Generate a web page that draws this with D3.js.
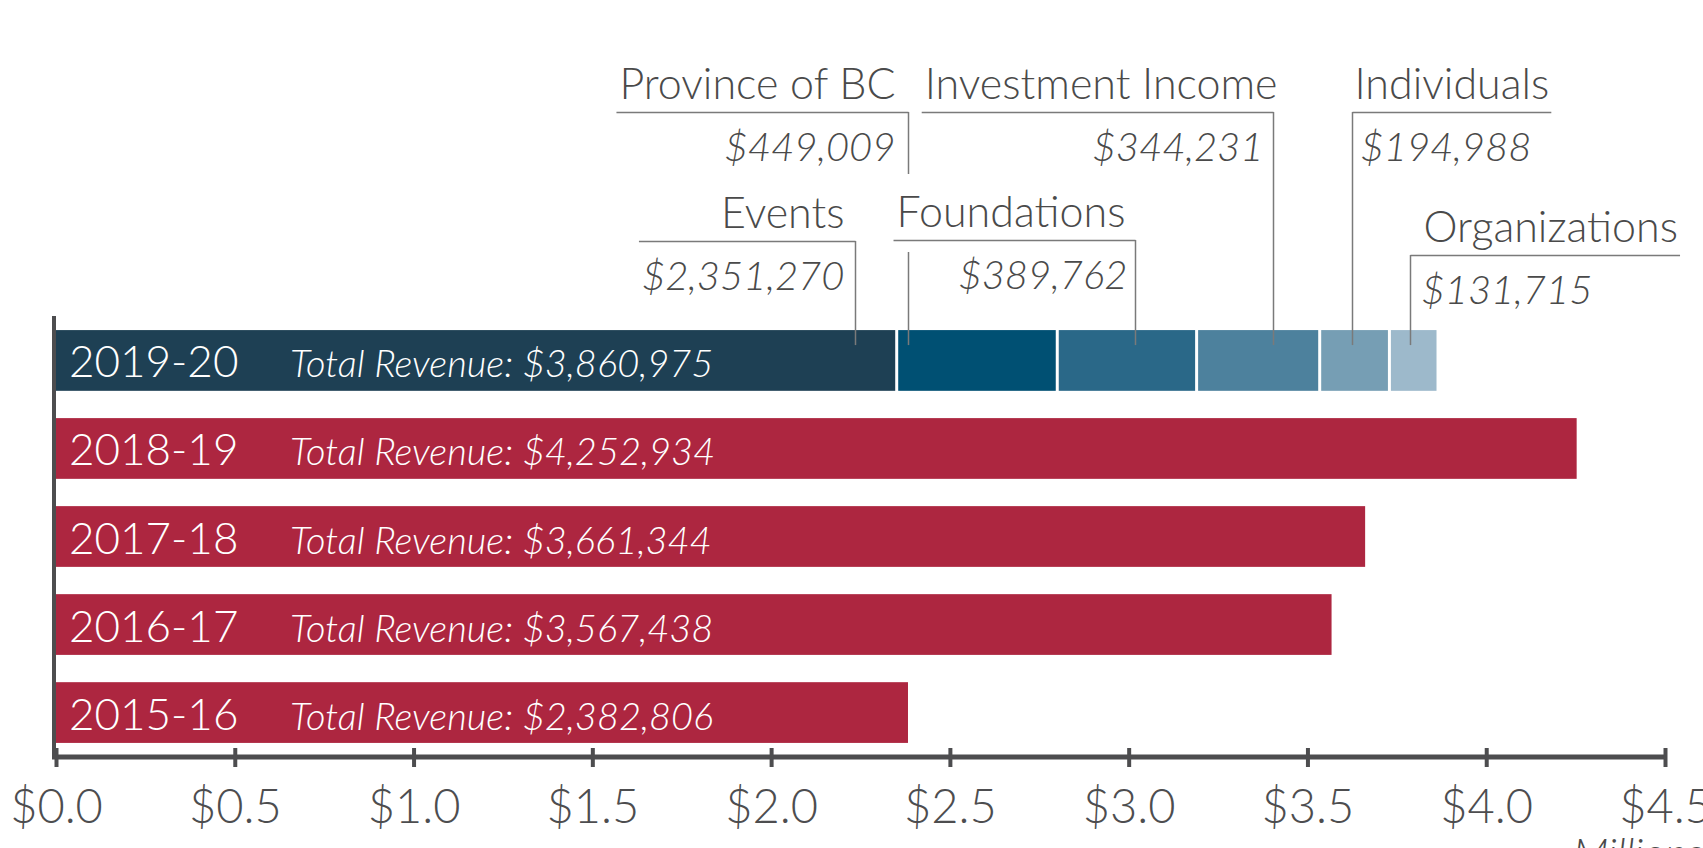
<!DOCTYPE html>
<html>
<head>
<meta charset="utf-8">
<script src="https://cdn.jsdelivr.net/npm/d3@7"></script>
<style>
  html, body { margin: 0; padding: 0; background: #fff; overflow: hidden; }
  svg { display: block; font-family: Lato, "Open Sans", sans-serif; }
</style>
</head>
<body>
<svg id="chart"></svg>
<script>
// revenue by fiscal year (dollars)
const years = ["2019-20", "2018-19", "2017-18", "2016-17", "2015-16"];
const totals = [3860975, 4252934, 3661344, 3567438, 2382806];

// 2019-20 breakdown
const sources = ["Events", "Province of BC", "Foundations", "Investment Income", "Individuals", "Organizations"];
const sourceValues = [2351270, 449009, 389762, 344231, 194988, 131715];

// axis ticks, in millions
const tickValues = [0, 0.5, 1, 1.5, 2, 2.5, 3, 3.5, 4, 4.5];

const width = 1703, height = 848;
const red = '#ad2640';
const blues = ['#1e4054', '#005073', '#2a6888', '#4d819d', '#769eb4', '#9db9cb'];
const axisCol = '#4d4d4f', labelCol = '#4a4a4a', leaderCol = '#7a7a7a';

// where each callout sits: fraction along its segment, underline y, text side
const callouts = [
  { frac: 0.95, ul: 241, side: 'left', pad: 11, vpad: 11 },
  { frac: 0.07, ul: 112, side: 'left', pad: 13, vpad: 13, gap: [174, 252] },
  { frac: 0.56, ul: 240, side: 'left', pad: 10, vpad: 8 },
  { frac: 0.62, ul: 112, side: 'left', pad: -4, vpad: 10 },
  { frac: 0.46, ul: 112, side: 'right', pad: 2, vpad: 8 },
  { frac: 0.44, ul: 255, side: 'right', pad: 13, vpad: 11 }
];

const svg = d3.select('#chart')
  .attr('width', width)
  .attr('height', height);

const x = d3.scaleLinear()
  .domain([0, 4.5])
  .range([56, 1665]);

const y = d3.scaleBand()
  .domain(years)
  .range([316, 757])
  .paddingInner(0.31)
  .paddingOuter(0.16);

const fmt = d3.format('$,');

// plain red bars for earlier years
svg.selectAll('rect.total')
  .data(years.slice(1))
  .enter()
  .append('rect')
  .attr('class', 'total')
  .attr('x', x(0))
  .attr('y', d => y(d))
  .attr('width', d => x(totals[years.indexOf(d)] / 1e6) - x(0))
  .attr('height', y.bandwidth())
  .attr('fill', red);

// stacked 2019-20 bar
const row = {};
sources.forEach((s, i) => row[s] = sourceValues[i] / 1e6);
const stacked = d3.stack().keys(sources)([row]);

const segs = stacked.map((s, i) => ({
  name: s.key,
  value: sourceValues[i],
  x0: x(s[0][0]),
  x1: x(s[0][1]),
  i: i
}));

svg.selectAll('rect.seg')
  .data(segs)
  .enter()
  .append('rect')
  .attr('class', 'seg')
  .attr('x', d => d.x0 + (d.i > 0 ? 1.5 : 0))
  .attr('y', y(years[0]))
  .attr('width', d => d.x1 - d.x0 - (d.i > 0 ? 1.5 : 0) - (d.i < segs.length - 1 ? 1.5 : 0))
  .attr('height', y.bandwidth())
  .attr('fill', (d, i) => blues[i]);

// year and total labels inside bars
const inBar = svg.append('g');
inBar.selectAll('text.year')
  .data(years)
  .enter()
  .append('text')
  .attr('class', 'year')
  .attr('x', 69)
  .attr('y', d => y(d) + y.bandwidth() / 2 + 17)
  .attr('fill', '#fff')
  .style('font-size', '44px')
  .style('font-weight', 300)
  .text(d => d);

inBar.selectAll('text.tot')
  .data(years)
  .enter()
  .append('text')
  .attr('class', 'tot')
  .attr('x', 290)
  .attr('y', d => y(d) + y.bandwidth() / 2 + 17)
  .attr('fill', '#fff')
  .style('font-size', '38px')
  .style('font-style', 'italic')
  .style('font-weight', 300)
  .text((d, i) => 'Total Revenue: ' + fmt(totals[i]));

// callouts for 2019-20 sources
const barTop = y(years[0]);
const leaderEnd = barTop + 15;

segs.forEach((d, i) => {
  const c = callouts[i];
  const lx = Math.round(d.x0 + (d.x1 - d.x0) * c.frac) + 0.5;
  const g = svg.append('g');
  const left = c.side === 'left';
  const anchor = left ? 'end' : 'start';

  const name = g.append('text')
    .attr('x', left ? lx - c.pad : lx + c.pad)
    .attr('y', c.ul - 13)
    .attr('text-anchor', anchor)
    .attr('fill', labelCol)
    .style('font-size', '43px')
    .style('font-weight', 300)
    .text(d.name);

  const val = g.append('text')
    .attr('x', left ? lx - c.vpad : lx + c.vpad)
    .attr('y', c.ul + 49)
    .attr('text-anchor', anchor)
    .attr('fill', labelCol)
    .style('font-size', '40px')
    .style('font-style', 'italic')
    .style('font-weight', 300)
    .text(fmt(d.value));

  const nb = name.node().getBBox();
  const vb = val.node().getBBox();
  const far = left
    ? Math.min(nb.x, vb.x) - 3
    : Math.max(nb.x + nb.width, vb.x + vb.width) + 2;

  g.append('line')
    .attr('x1', far).attr('x2', lx)
    .attr('y1', c.ul + 0.5).attr('y2', c.ul + 0.5)
    .attr('stroke', leaderCol)
    .attr('stroke-width', 1.5);

  const parts = c.gap ? [[c.ul, c.gap[0]], [c.gap[1], leaderEnd]] : [[c.ul, leaderEnd]];
  parts.forEach(p => {
    g.append('line')
      .attr('x1', lx).attr('x2', lx)
      .attr('y1', p[0]).attr('y2', p[1])
      .attr('stroke', leaderCol)
      .attr('stroke-width', 1.5);
  });
});

// x axis
const xAxis = d3.axisBottom(x)
  .tickValues(tickValues)
  .tickSizeInner(10)
  .tickSizeOuter(0)
  .tickFormat(d => '$' + d.toFixed(1));

const ax = svg.append('g')
  .attr('transform', 'translate(0,757)')
  .call(xAxis);

ax.select('.domain')
  .attr('stroke', axisCol)
  .attr('stroke-width', 5)
  .attr('d', `M52,0H${x(4.5)}`);

ax.selectAll('.tick line')
  .attr('stroke', axisCol)
  .attr('stroke-width', 4)
  .attr('y1', -9)
  .attr('y2', 10);

ax.selectAll('.tick text')
  .attr('y', 66)
  .attr('dy', 0)
  .attr('fill', axisCol)
  .style('font-family', 'Lato, sans-serif')
  .style('font-size', '47px')
  .style('font-weight', 300);

// y axis line
svg.append('line')
  .attr('x1', 54).attr('x2', 54)
  .attr('y1', y.range()[0]).attr('y2', 759)
  .attr('stroke', axisCol)
  .attr('stroke-width', 4);

// unit label (runs off the bottom edge, as in the source)
svg.append('text')
  .attr('x', 1573)
  .attr('y', 868)
  .attr('fill', labelCol)
  .style('font-size', '42px')
  .style('font-style', 'italic')
  .style('font-weight', 300)
  .text('Millions');
</script>
</body>
</html>
